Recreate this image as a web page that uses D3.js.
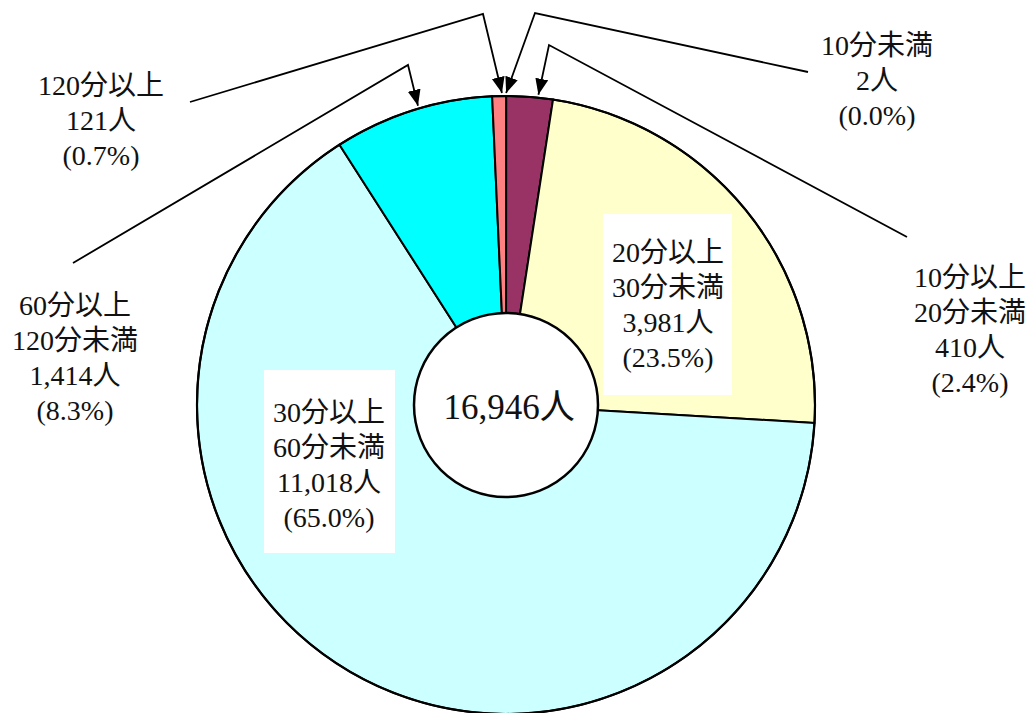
<!DOCTYPE html>
<html>
<head>
<meta charset="utf-8">
<script src="https://cdn.jsdelivr.net/npm/d3@7"></script>
<style>
  html, body { margin: 0; padding: 0; background: #fff; }
  svg { display: block; }
  text { font-family: "Liberation Serif", "Noto Sans CJK JP", serif; fill: #111; }
</style>
</head>
<body>
<svg id="chart" width="1032" height="713"></svg>
<script>
// data
let categories = ['10分未満', '10分以上20分未満', '20分以上30分未満', '30分以上60分未満', '60分以上120分未満', '120分以上'];
let counts = [2, 410, 3981, 11018, 1414, 121];
let percents = ['0.0%', '2.4%', '23.5%', '65.0%', '8.3%', '0.7%'];
let total = 16946;
let colors = ['#9999ff', '#993366', '#ffffcc', '#ccffff', '#00ffff', '#ff8080'];

// layout of the labels (one per category, same order)
let labelPos = [
  {x: 877, y: 55, lead: [[808, 72], [535, 13]], tip: 0.5},
  {x: 970, y: 287, lead: [[907, 237], [549, 45]], tip: 0.68},
  {x: 668, y: 262, box: [603, 214, 129, 181]},
  {x: 329, y: 422, box: [264, 370, 131, 183]},
  {x: 75, y: 315, lead: [[73, 263], [408, 65]], tip: 0.54},
  {x: 101, y: 95, lead: [[190, 102], [483, 14]], tip: 0.71}
];

let cx = 506, cy = 405, R = 309, r0 = 92, lineGap = 35;
let fmt = d3.format(',');

let svg = d3.select('#chart');

svg.append('defs').append('marker')
  .attr('id', 'arrow')
  .attr('markerUnits', 'userSpaceOnUse')
  .attr('markerWidth', 17).attr('markerHeight', 14)
  .attr('refX', 16).attr('refY', 6.5)
  .attr('orient', 'auto')
  .append('path').attr('d', 'M0,0 L16,6.5 L0,13 Z').attr('fill', '#000');

let pie = d3.pie().sort(null).value(d => d).startAngle(0).endAngle(2 * Math.PI);
let arcs = pie(counts);
let arc = d3.arc().innerRadius(0).outerRadius(R);

let g = svg.append('g').attr('transform', 'translate(' + cx + ',' + cy + ')');

g.selectAll('path.slice')
  .data(arcs)
  .enter().append('path')
  .attr('class', 'slice')
  .attr('d', arc)
  .attr('fill', (d, i) => colors[i])
  .attr('stroke', '#000')
  .attr('stroke-width', 2)
  .attr('stroke-linejoin', 'round');

g.append('circle').attr('r', R).attr('fill', 'none').attr('stroke', '#000').attr('stroke-width', 2.2);
g.append('circle').attr('r', r0).attr('fill', '#fff').attr('stroke', '#000').attr('stroke-width', 2.5);

g.append('text')
  .attr('x', 3).attr('y', 14)
  .attr('text-anchor', 'middle')
  .attr('font-size', 35)
  .text(fmt(total) + '人');

// split "10分以上20分未満" -> ["10分以上", "20分未満"]
let splitName = function(name) {
  let k = name.indexOf('以上');
  if (k < 0 || k + 2 == name.length) return [name];
  return [name.slice(0, k + 2), name.slice(k + 2)];
}

// leader lines with arrows
arcs.forEach(function(d, i) {
  let p = labelPos[i];
  if (!p.lead) return;
  let a = d.startAngle + (d.endAngle - d.startAngle) * p.tip;
  let tip = [cx + (R + 3) * Math.sin(a), cy - (R + 3) * Math.cos(a)];
  svg.append('path')
    .attr('d', d3.line()([p.lead[0], p.lead[1], tip]))
    .attr('fill', 'none')
    .attr('stroke', '#000')
    .attr('stroke-width', 1.8)
    .attr('marker-end', 'url(#arrow)');
});

// labels
categories.forEach(function(name, i) {
  let p = labelPos[i];
  if (p.box) {
    svg.append('rect')
      .attr('x', p.box[0]).attr('y', p.box[1])
      .attr('width', p.box[2]).attr('height', p.box[3])
      .attr('fill', '#fff');
  }
  let lines = splitName(name).concat([fmt(counts[i]) + '人', '(' + percents[i] + ')']);
  let t = svg.append('text')
    .attr('text-anchor', 'middle')
    .attr('font-size', 28);
  lines.forEach(function(s, j) {
    t.append('tspan').attr('x', p.x).attr('y', p.y + j * lineGap).text(s);
  });
});
</script>
</body>
</html>
